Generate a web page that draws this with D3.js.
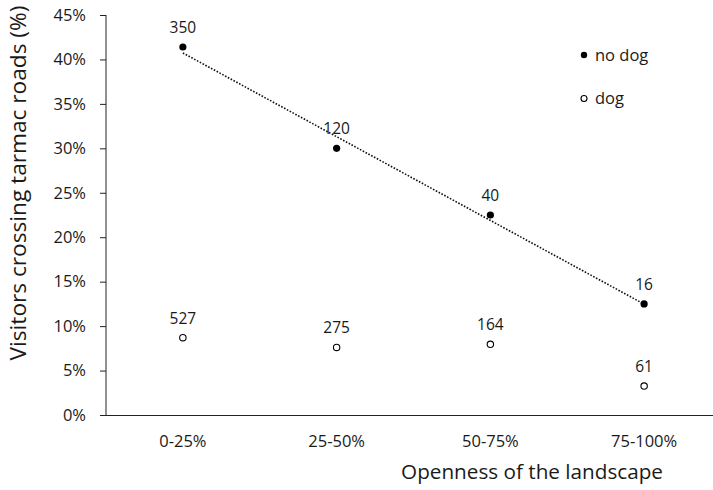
<!DOCTYPE html>
<html>
<head>
<meta charset="utf-8">
<script src="https://cdn.jsdelivr.net/npm/d3@7"></script>
<style>
html,body{margin:0;padding:0;background:#fff;}
svg{display:block;}
text{font-family:"Open Sans",sans-serif;fill:#1a1a1a;}
</style>
</head>
<body>
<svg id="chart" width="713" height="490"></svg>
<script>
const categories = ["0-25%", "25-50%", "50-75%", "75-100%"];
const noDogValues = [41.4, 30.0, 22.5, 12.5];
const noDogCounts = [350, 120, 40, 16];
const dogValues = [8.7, 7.6, 7.95, 3.25];
const dogCounts = [527, 275, 164, 61];
const yTicks = [0, 5, 10, 15, 20, 25, 30, 35, 40, 45];

const svg = d3.select("#chart");
const x = d3.scaleBand().domain(categories).range([106, 721]);
const y = d3.scaleLinear().domain([0, 45]).range([415, 15]);
const cx = c => x(c) + x.bandwidth() / 2;

// Y axis
const yAxis = svg.append("g").attr("transform", "translate(106,0)")
  .call(d3.axisLeft(y).tickValues(yTicks).tickFormat(d => d + "%").tickSize(6).tickPadding(14));
yAxis.select(".domain").attr("d", "M0," + y(45) + "V" + y(0)).attr("stroke", "#222");
yAxis.selectAll(".tick line").attr("stroke", "#222");
yAxis.selectAll(".tick text").attr("font-size", 16.5).attr("font-family", "Open Sans").attr("fill", "#1a1a1a");

// X axis
const xAxis = svg.append("g").attr("transform", "translate(0,415)")
  .call(d3.axisBottom(x).tickSize(0).tickPadding(20));
xAxis.select(".domain").attr("d", "M100,0.5H713").attr("stroke", "#222");
xAxis.selectAll(".tick text").attr("font-size", 16.5).attr("font-family", "Open Sans").attr("fill", "#1a1a1a");

// Trendline (least squares over the no-dog series)
const xs = noDogValues.map((v, i) => i + 1);
const mx = d3.mean(xs), my = d3.mean(noDogValues);
const slope = d3.sum(xs.map((xi, i) => (xi - mx) * (noDogValues[i] - my))) / d3.sum(xs.map(xi => (xi - mx) ** 2));
const icpt = my - slope * mx;
const trend = categories.map((c, i) => [cx(c), y(icpt + slope * (i + 1))]);
svg.append("path").attr("d", d3.line()([trend[0], trend[trend.length - 1]]))
  .attr("stroke", "#111").attr("stroke-width", 1.6).attr("stroke-dasharray", "1.6,1.6").attr("fill", "none");

// Points
svg.selectAll(".nd").data(noDogValues).join("circle")
  .attr("cx", (d, i) => cx(categories[i])).attr("cy", d => y(d)).attr("r", 3.6).attr("fill", "#000");
svg.selectAll(".dg").data(dogValues).join("circle")
  .attr("cx", (d, i) => cx(categories[i])).attr("cy", d => y(d)).attr("r", 3.2)
  .attr("fill", "#fff").attr("stroke", "#000").attr("stroke-width", 1.1);

// Count labels
svg.selectAll(".ndl").data(noDogCounts).join("text")
  .attr("x", (d, i) => cx(categories[i])).attr("y", (d, i) => y(noDogValues[i]) - 14)
  .attr("text-anchor", "middle").attr("font-size", 15.5).text(d => d);
svg.selectAll(".dgl").data(dogCounts).join("text")
  .attr("x", (d, i) => cx(categories[i])).attr("y", (d, i) => y(dogValues[i]) - 14)
  .attr("text-anchor", "middle").attr("font-size", 15.5).text(d => d);

// Legend
svg.append("circle").attr("cx", 584).attr("cy", 55).attr("r", 3.2).attr("fill", "#000");
svg.append("text").attr("x", 595).attr("y", 61).attr("font-size", 16.5).text("no dog");
svg.append("circle").attr("cx", 584).attr("cy", 98.5).attr("r", 3).attr("fill", "#fff").attr("stroke", "#000").attr("stroke-width", 1.1);
svg.append("text").attr("x", 595).attr("y", 104).attr("font-size", 16.5).text("dog");

// Axis titles
const yt = svg.append("text").attr("transform", "translate(26,183) rotate(-90)")
  .attr("text-anchor", "middle").attr("font-size", 20).text("Visitors crossing tarmac roads (%)");
const xt = svg.append("text").attr("x", 532).attr("y", 479)
  .attr("text-anchor", "middle").attr("font-size", 20).text("Openness of the landscape");
// fit title widths to the reference extents
function fit(t, w) { const l = t.node().getComputedTextLength(); t.attr("font-size", 20 * w / l); }
fit(yt, 355);
fit(xt, 262);
</script>
</body>
</html>
